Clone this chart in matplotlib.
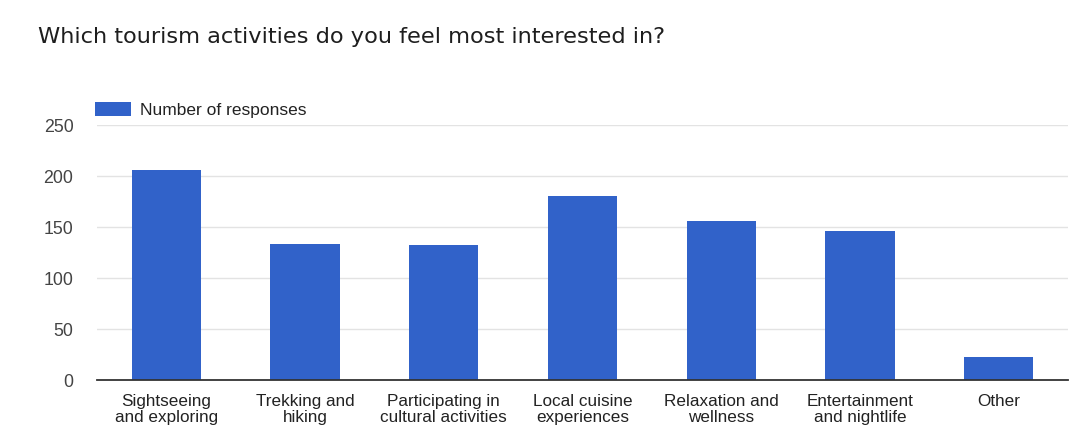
import matplotlib
matplotlib.use("Agg")
import matplotlib.pyplot as plt
from matplotlib.patches import Rectangle

categories = ["Sightseeing\nand exploring", "Trekking and\nhiking", "Participating in\ncultural activities",
              "Local cuisine\nexperiences", "Relaxation and\nwellness", "Entertainment\nand nightlife", "Other"]
responses = [206, 133, 132, 180, 156, 146, 23]
yticks = [0, 50, 100, 150, 200, 250]
series_name = "Number of responses"
title = "Which tourism activities do you feel most interested in?"

W, H = 1078, 427
fig = plt.figure(figsize=(W / 100, H / 100), dpi=100)
fig.patch.set_facecolor("white")
ax = fig.add_axes([97 / W, 1 - 381 / H, (1068 - 97) / W, (381 - 126) / H])

color = "#3162c9"
x = range(len(categories))
ax.bar(x, responses, width=0.5, color=color, zorder=3)
ax.set_xlim(-0.5, len(categories) - 0.5)
ax.set_ylim(0, 250)
ax.set_yticks(yticks)
ax.set_yticklabels([str(v) for v in yticks], fontsize=12.8, color="#444444", family="Liberation Sans")
ax.set_xticks(list(x))
ax.set_xticklabels(categories, fontsize=12.3, color="#222222", family="Liberation Sans", linespacing=1.06)
ax.tick_params(axis="both", length=0)
ax.tick_params(axis="y", pad=17)
ax.tick_params(axis="x", pad=9.5)
ax.grid(axis="y", color="#e3e3e3", linewidth=1, zorder=0)
for s in ["top", "right", "left"]:
    ax.spines[s].set_visible(False)
ax.spines["bottom"].set_color("#333333")
ax.spines["bottom"].set_linewidth(1.3)
ax.spines["bottom"].set_zorder(4)

fig.text(38 / W, 1 - 37 / H, title, fontsize=16.2, color="#1e1e1e", family="DejaVu Sans",
         va="center", ha="left")

fig.patches.append(Rectangle((95 / W, 1 - 117 / H), 36 / W, 14 / H, transform=fig.transFigure,
                             facecolor=color, edgecolor="none"))
fig.text(140 / W, 1 - 110 / H, series_name, fontsize=12.5, color="#222222", family="Liberation Sans",
         va="center", ha="left")

fig.savefig("out.png", dpi=100, facecolor="white")
